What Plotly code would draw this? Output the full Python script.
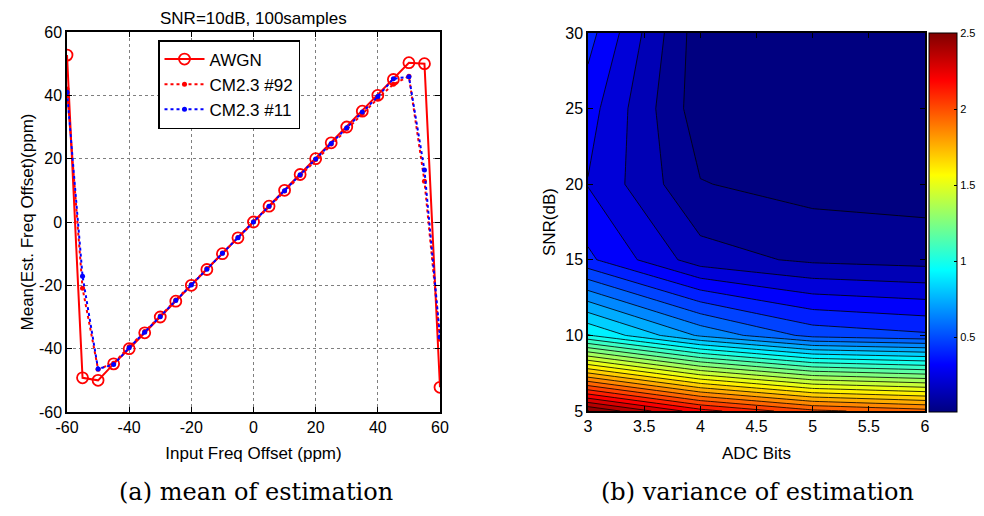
import plotly.graph_objects as go

# ---------------- data: left panel ----------------
freq_offset = [-60, -55, -50, -45, -40, -35, -30, -25, -20, -15, -10, -5, 0,
               5, 10, 15, 20, 25, 30, 35, 40, 45, 50, 55, 60]
awgn = [52.7, -49.2, -50.0, -44.8, -40.0, -35.0, -30.0, -25.0, -20.0, -15.0, -10.0, -5.0, 0.0,
        5.0, 10.0, 15.0, 20.0, 25.0, 30.0, 35.0, 40.0, 45.0, 50.3, 50.0, -52.2]
cm92 = [42.0, -20.9, -46.5, -44.6, -39.4, -34.6, -29.7, -24.6, -19.7, -14.7, -9.8, -4.9, 0.1,
        4.9, 9.8, 14.7, 19.7, 24.6, 29.5, 34.3, 39.0, 43.5, 46.0, 12.9, -37.0]
cm11 = [41.0, -17.1, -46.4, -45.0, -39.7, -34.8, -29.9, -24.8, -19.9, -14.9, -9.9, -5.0, 0.0,
        5.0, 9.9, 14.9, 19.9, 24.8, 29.8, 34.7, 39.6, 45.2, 45.9, 16.4, -36.3]
left_ticks = [-60, -40, -20, 0, 20, 40, 60]
left_ticktext = ["-60", "-40", "-20", "0", "20", "40", "60"]

# ---------------- data: right panel ----------------
adc_bits = [3, 4, 5, 6]
snr_db = [5, 10, 15, 20, 25, 30]
variance = [
    [2.50, 2.20, 2.02, 1.95],    # SNR 5
    [1.01, 0.74, 0.56, 0.52],    # SNR 10
    [0.44, 0.21, 0.157, 0.14],   # SNR 15
    [0.335, 0.094, 0.058, 0.05], # SNR 20
    [0.375, 0.04, 0.03, 0.025],  # SNR 25
    [0.455, 0.04, 0.02, 0.01],   # SNR 30
]
bits_ticks = [3, 3.5, 4, 4.5, 5, 5.5, 6]
snr_ticks = [5, 10, 15, 20, 25, 30]
cbar_ticks = [0.5, 1, 1.5, 2, 2.5]

jet = [[0.0, "rgb(0,0,128)"], [0.125, "rgb(0,0,255)"], [0.375, "rgb(0,255,255)"],
       [0.625, "rgb(255,255,0)"], [0.875, "rgb(255,0,0)"], [1.0, "rgb(128,0,0)"]]

# page body has an 8px margin: the 968x500 figure sits at (8, 8) in the 984x516 window
W, H, OFF = 968, 500, 8


def px(x):
    return (x - OFF) / W


def py(y):
    return 1 - (y - OFF) / H


FONT = "Liberation Sans"
fig = go.Figure()

fig.add_trace(go.Scatter(
    x=freq_offset, y=awgn, name="AWGN", mode="lines+markers",
    line=dict(color="red", width=2),
    marker=dict(symbol="circle-open", size=11, color="red", line=dict(width=1.8, color="red")),
    xaxis="x", yaxis="y"))
fig.add_trace(go.Scatter(
    x=freq_offset, y=cm92, name="CM2.3 #92", mode="lines+markers",
    line=dict(color="red", width=2, dash="dot"),
    marker=dict(symbol="circle", size=5, color="red"),
    xaxis="x", yaxis="y"))
fig.add_trace(go.Scatter(
    x=freq_offset, y=cm11, name="CM2.3 #11", mode="lines+markers",
    line=dict(color="blue", width=2, dash="dot"),
    marker=dict(symbol="circle", size=5, color="blue"),
    xaxis="x", yaxis="y"))

fig.add_trace(go.Contour(
    x=adc_bits, y=snr_db, z=variance, xaxis="x2", yaxis="y2",
    colorscale=jet, zauto=False, zmin=0.01, zmax=2.5, showscale=False,
    autocontour=False,
    contours=dict(start=0.09, end=2.5, size=0.083, coloring="fill"),
    line=dict(color="black", width=0.8, smoothing=0),
    showlegend=False, hoverinfo="skip"))

# dummy trace for a continuous colorbar
fig.add_trace(go.Scatter(
    x=[None], y=[None], xaxis="x2", yaxis="y2", mode="markers", showlegend=False,
    marker=dict(color=[0.01, 2.5], cmin=0.01, cmax=2.5, colorscale=jet, showscale=True,
                colorbar=dict(x=px(929), xanchor="left", y=py(222.5), yanchor="middle",
                              len=379 / H, lenmode="fraction", thickness=28,
                              thicknessmode="pixels", xpad=0, ypad=0,
                              outlinecolor="black", outlinewidth=1,
                              tickvals=cbar_ticks, ticktext=[str(t) for t in cbar_ticks],
                              ticks="inside", ticklen=3, tickcolor="black",
                              tickfont=dict(family=FONT, size=11, color="black")))))

axis_common = dict(showline=True, linecolor="black", linewidth=1.5, mirror="allticks",
                   ticks="inside", ticklen=5, tickcolor="black", zeroline=False,
                   automargin=False,
                   tickfont=dict(family=FONT, size=16, color="black"))

fig.update_layout(
    width=W, height=H, margin=dict(l=0, r=0, t=0, b=0, autoexpand=False),
    paper_bgcolor="white", plot_bgcolor="white",
    font=dict(family=FONT, size=16, color="black"),
    xaxis=dict(domain=[px(67), px(440)], range=[-60, 60], tickvals=left_ticks, ticktext=left_ticktext,
               showgrid=True, gridcolor="#7f7f7f", griddash="dot", gridwidth=1,
               title=dict(text="Input Freq Offset (ppm)", standoff=12,
                          font=dict(family=FONT, size=17)),
               anchor="y", **axis_common),
    yaxis=dict(domain=[py(412), py(32)], range=[-60, 60], tickvals=left_ticks, ticktext=left_ticktext,
               showgrid=True, gridcolor="#7f7f7f", griddash="dot", gridwidth=1,
               title=dict(text="Mean(Est. Freq Offset)(ppm)", standoff=1,
                          font=dict(family=FONT, size=17)),
               anchor="x", **axis_common),
    xaxis2=dict(domain=[px(588), px(925)], range=[3, 6], tickvals=bits_ticks,
                showgrid=False,
                title=dict(text="ADC Bits", standoff=13, font=dict(family=FONT, size=17)),
                anchor="y2", **axis_common),
    yaxis2=dict(domain=[py(411), py(33)], range=[5, 30], tickvals=snr_ticks,
                showgrid=False,
                title=dict(text="SNR(dB)", standoff=5, font=dict(family=FONT, size=17)),
                anchor="x2", **axis_common),
    legend=dict(x=px(158), y=py(40), xref="paper", yref="paper",
                xanchor="left", yanchor="top", bgcolor="white",
                bordercolor="black", borderwidth=1.5,
                font=dict(family=FONT, size=17, color="black"),
                tracegroupgap=0, itemwidth=40),
    annotations=[
        dict(text="SNR=10dB, 100samples", x=px(253.5), y=1.0, xref="paper", yref="paper",
             showarrow=False, font=dict(family=FONT, size=17, color="black"),
             xanchor="center", yanchor="top", borderpad=0),
        dict(text="(a) mean of estimation", x=px(256), y=0.0, xref="paper", yref="paper",
             showarrow=False, font=dict(family="DejaVu Serif", size=24, color="black"),
             xanchor="center", yanchor="bottom", borderpad=1),
        dict(text="(b) variance of estimation", x=px(757), y=0.0, xref="paper", yref="paper",
             showarrow=False, font=dict(family="DejaVu Serif", size=24, color="black"),
             xanchor="center", yanchor="bottom", borderpad=1),
    ],
)

fig.write_html("out.html")
